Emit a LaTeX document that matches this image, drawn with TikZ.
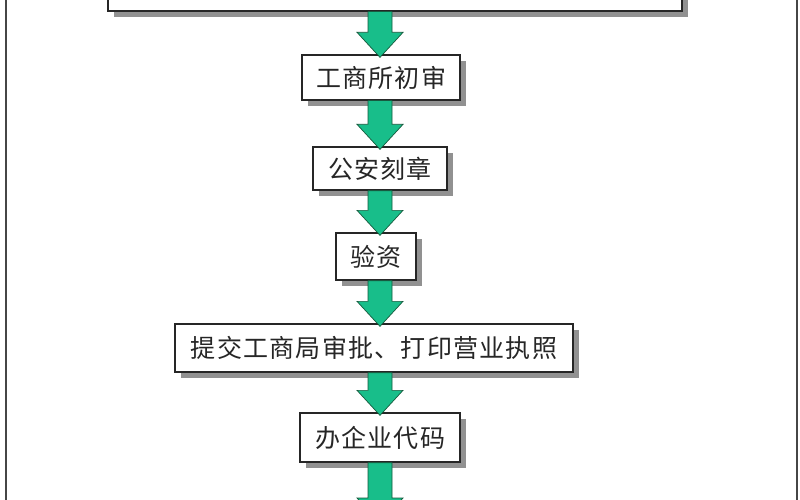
\documentclass[tikz,border=0pt]{standalone}
\usepackage{fontspec}
\newfontfamily\cjk[LetterSpace=5]{Noto Sans CJK SC}
\usetikzlibrary{shadows,calc}
\definecolor{arrowgreen}{RGB}{24,190,138}
\definecolor{arrowedge}{RGB}{20,90,60}
\definecolor{shadowgray}{RGB}{145,145,145}
\definecolor{framegray}{RGB}{70,70,70}
\tikzset{
  stepbox/.style={draw=black!85, line width=1.3pt, fill=white,
    font=\cjk\fontsize{25}{29}\selectfont, text=black!85, inner sep=0pt,
    drop shadow={shadow xshift=6pt, shadow yshift=-6pt, fill=shadowgray, opacity=1}},
  flow/.style={fill=arrowgreen, draw=arrowedge, line width=0.7pt, line join=miter},
  frameline/.style={draw=framegray, line width=1.6pt}
}
\newcommand\flowarrow[2]{%
  \path[flow] let \p0=(axis), \p1=(#1.south), \p2=(#2) in
   (\x0-12pt,\y1) -- (\x0+12pt,\y1) -- (\x0+12pt,\y2+22pt) -- (\x0+23pt,\y2+22pt)
   -- (\x0,\y2-3pt) -- (\x0-23pt,\y2+22pt) -- (\x0-12pt,\y2+22pt) -- cycle;}
\begin{document}
\begin{tikzpicture}[x=1pt,y=-1pt]
\useasboundingbox (0,0) rectangle (800,500);
\fill[white] (0,0) rectangle (800,500);
\draw[frameline] (6,-5) -- (6,505);
\draw[frameline] (797,-5) -- (797,505);
\coordinate (axis) at (380,0);
\node[stepbox, minimum width=574pt, minimum height=50pt] (top) at (395,-14) {};
\node[stepbox, minimum width=158pt, minimum height=45pt] (n1) at (381,77.5) {工商所初审};
\node[stepbox, minimum width=134pt, minimum height=43pt] (n2) at (380,168.5) {公安刻章};
\node[stepbox, minimum width=80pt, minimum height=47pt] (n3) at (376,256.5) {验资};
\node[stepbox, minimum width=398pt, minimum height=48pt] (n4) at (374,348) {提交工商局审批、打印营业执照};
\node[stepbox, minimum width=160pt, minimum height=49pt] (n5) at (380,437.5) {办企业代码};
\coordinate (next) at (380,520);
\flowarrow{top}{n1.north}
\flowarrow{n1}{n2.north}
\flowarrow{n2}{n3.north}
\flowarrow{n3}{n4.north}
\flowarrow{n4}{n5.north}
\flowarrow{n5}{next}
\end{tikzpicture}
\end{document}
